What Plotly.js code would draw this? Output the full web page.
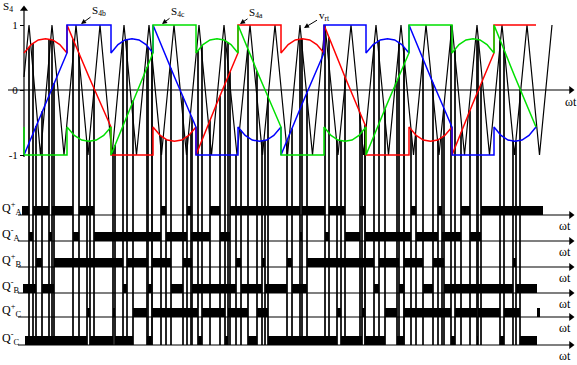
<!DOCTYPE html>
<html><head><meta charset="utf-8">
<script src="https://cdn.plot.ly/plotly-3.0.1.min.js"></script>
<style>html,body{margin:0;padding:0;background:#fff}#chart{width:577px;height:365px}</style>
</head><body><div id="chart"></div>
<script>
// ---------- data (ωt axis in drawing units) ----------
// modulating signals S4a (red), S4b (blue), S4c (green)
const redX = [24,31.2,38.3,45.5,52.7,59.8,67, 67,89,111, 111,153, 153,160.2,167.3,174.5,181.7,188.8,196, 196,217,238, 238,281, 281,288.2,295.3,302.5,309.7,316.8,324, 324,345,366, 366,409, 409,416.2,423.3,430.5,437.7,444.8,452, 452,473,494, 494,536];
const redY = [.57,.70,.77,.79,.77,.70,.57, 1,.2,-.57, -1,-1, -.57,-.70,-.77,-.79,-.77,-.70,-.57, -1,-.2,.57, 1,1, .57,.70,.77,.79,.77,.70,.57, 1,.2,-.57, -1,-1, -.57,-.70,-.77,-.79,-.77,-.70,-.57, -1,-.2,.57, 1,1];
const blueX = [24,45.5,67, 67,111, 111,118,125,132,139,146,153, 153,174.5,196, 196,238, 238,245.2,252.3,259.5,266.7,273.8,281, 281,302.5,324, 324,366, 366,373.2,380.3,387.5,394.7,401.8,409, 409,430.5,452, 452,494, 494,501,508,515,522,529,536];
const blueY = [-1,-.2,.57, 1,1, .57,.70,.77,.79,.77,.70,.57, 1,.2,-.57, -1,-1, -.57,-.70,-.77,-.79,-.77,-.70,-.57, -1,-.2,.57, 1,1, .57,.70,.77,.79,.77,.70,.57, 1,.2,-.57, -1,-1, -.57,-.70,-.77,-.79,-.77,-.70,-.57];
const greenX = [24, 24,67, 67,74.3,81.7,89,96.3,103.7,111, 111,132,153, 153,196, 196,203,210,217,224,231,238, 238,259.5,281, 281,324, 324,331,338,345,352,359,366, 366,387.5,409, 409,452, 452,459,466,473,480,487,494, 494,515,536];
const greenY = [-.57, -1,-1, -.57,-.70,-.77,-.79,-.77,-.70,-.57, -1,-.2,.57, 1,1, .57,.70,.77,.79,.77,.70,.57, 1,.2,-.57, -1,-1, -.57,-.70,-.77,-.79,-.77,-.70,-.57, -1,-.2,.57, 1,1, .57,.70,.77,.79,.77,.70,.57, 1,.2,-.57];

// triangular carrier v_rt (vertices)
const carrierX = [24,29,40.5,52,64,76,88,100,112,124,136.5,149,161.5,174,186.5,199,211.5,224,237,250,262.5,275,287.5,300,312.5,325,338,351,363.5,376,388.5,401,413.5,426,439,452,464.5,477,489.5,502,514.5,527,539.5,552];
const carrierY = [0.2,1,-1,1,-1,1,-1,1,-1,1,-1,1,-1,1,-1,1,-1,1,-1,1,-1,1,-1,1,-1,1,-1,1,-1,1,-1,1,-1,1,-1,1,-1,1,-1,1,-1,1,-1,1];

// gate signals: on-intervals [start, end]
const qApOn = [[22,29],[33,49],[52,73],[79,94],[161,166],[187,191],[210,220],[230,300],[302,325],[329,345],[360,365],[411,416],[438,442],[461,470],[481,543]];
const qAnOn = [[29,33],[49,52],[73,79],[94,161],[166,187],[191,210],[220,230],[300,302],[325,329],[345,360],[365,411],[416,438],[442,461],[470,481]];
const qBpOn = [[36,42],[54,123],[127,148],[152,171],[183,192],[236,241],[262,265],[287,292],[307,374],[379,399],[404,423],[433,444],[513,516]];
const qBnOn = [[23,36],[42,54],[123,127],[148,152],[171,183],[192,236],[241,262],[265,287],[292,307],[374,379],[399,404],[423,433],[444,513],[516,537]];
const qCpOn = [[87,90],[113,115],[133,147],[152,198],[202,225],[228,248],[257,268],[337,341],[362,365],[385,397],[404,451],[455,477],[478,500],[504,520],[537,540]];
const qCnOn = [[25,87],[90,113],[115,133],[147,152],[198,202],[225,228],[248,257],[268,337],[341,362],[365,385],[397,404],[451,455],[477,478],[500,504],[520,537]];

const rowLabels = ['Q<sup>+</sup><sub>A</sub>','Q<sup>-</sup><sub>A</sub>','Q<sup>+</sup><sub>B</sub>','Q<sup>-</sup><sub>B</sub>','Q<sup>+</sup><sub>C</sub>','Q<sup>-</sup><sub>C</sub>'];

// ---------- layout helpers ----------
const W = 577, H = 365;
const toVal = py => 1 - 2 * (py - 25) / 130;      // top panel value at pixel row
const toPaper = py => 1 - py / H;
const rowBase = [215, 241, 267, 293, 317, 345];    // baseline pixel rows
const barH = 9;
const FONT = 'Liberation Serif, Times New Roman, serif';

const rows = [
  {on: qApOn, rx: redX, ry: redY},
  {on: qAnOn, rx: redX, ry: redY},
  {on: qBpOn, rx: blueX, ry: blueY},
  {on: qBnOn, rx: blueX, ry: blueY},
  {on: qCpOn, rx: greenX, ry: greenY},
  {on: qCnOn, rx: greenX, ry: greenY}
];

function interp(xs, ys, x) {
  for (let i = 0; i < xs.length - 1; i++) {
    if (xs[i + 1] > xs[i] && x >= xs[i] && x <= xs[i + 1]) {
      return ys[i] + (ys[i + 1] - ys[i]) * (x - xs[i]) / (xs[i + 1] - xs[i]);
    }
  }
  return null;
}

const traces = [];
// vertical switching lines
const vx = [], vy = [];
const bottom = toVal(rowBase[5]);
rows.forEach(r => {
  r.on.forEach(iv => {
    iv.forEach(e => {
      if (e <= 26) return;
      const top = interp(r.rx, r.ry, e);
      if (top === null) return;
      vx.push(e, e, null); vy.push(top, bottom, null);
    });
  });
});
traces.push({type:'scatter', mode:'lines', x:vx, y:vy, xaxis:'x', yaxis:'y',
  line:{color:'#111', width:1.4}, hoverinfo:'skip', showlegend:false});

// gate bars
rows.forEach((r, k) => {
  traces.push({type:'bar', x:r.on.map(iv => (iv[0] + iv[1]) / 2), width:r.on.map(iv => iv[1] - iv[0]),
    y:r.on.map(() => 1), base:0, xaxis:'x', yaxis:'y' + (k + 2),
    marker:{color:'#000', line:{width:0}}, hoverinfo:'skip', showlegend:false});
});

// axis lines (baselines, zero line, vertical axis) and arrowheads
const ax = [], ay = [];
rowBase.forEach(b => { ax.push(18, 571, null); ay.push(toVal(b), toVal(b), null); });
ax.push(8, 571, null); ay.push(0, 0, null);
ax.push(24, 24, null); ay.push(toVal(157), toVal(10), null);
traces.push({type:'scatter', mode:'lines', x:ax, y:ay, xaxis:'x', yaxis:'y',
  line:{color:'#000', width:1.2}, hoverinfo:'skip', showlegend:false, cliponaxis:false});
traces.push({type:'scatter', mode:'markers', x:rowBase.map(() => 571).concat([571]),
  y:rowBase.map(b => toVal(b)).concat([0]), xaxis:'x', yaxis:'y', cliponaxis:false,
  marker:{symbol:'triangle-right', size:7, color:'#000', line:{width:0}}, hoverinfo:'skip', showlegend:false});
traces.push({type:'scatter', mode:'markers', x:[24], y:[toVal(9)], xaxis:'x', yaxis:'y', cliponaxis:false,
  marker:{symbol:'triangle-up', size:7, color:'#000', line:{width:0}}, hoverinfo:'skip', showlegend:false});

// carrier
traces.push({type:'scatter', mode:'lines', x:carrierX, y:carrierY, xaxis:'x', yaxis:'y',
  line:{color:'#000', width:1.2}, hoverinfo:'skip', showlegend:false});
// modulating signals
[[redX, redY, '#ff0000'], [blueX, blueY, '#0000ff'], [greenX, greenY, '#00e000']].forEach(s => {
  traces.push({type:'scatter', mode:'lines', x:s[0], y:s[1], xaxis:'x', yaxis:'y',
    line:{color:s[2], width:1.5}, hoverinfo:'skip', showlegend:false});
});

const layout = {
  width: W, height: H, margin:{l:0, r:0, t:0, b:0, pad:0},
  paper_bgcolor:'#fff', plot_bgcolor:'rgba(0,0,0,0)',
  showlegend:false, barmode:'overlay', hovermode:false,
  font:{family:FONT, color:'#000', size:12},
  xaxis:{range:[0, W], visible:false, fixedrange:true},
  yaxis:{domain:[0,1], range:[toVal(H), toVal(0)], anchor:'free', position:24 / W,
    tickvals:[-1,0,1], ticktext:['-1','0','1'], ticks:'outside', ticklen:4, tickcolor:'#000', tickwidth:1,
    showline:false, showgrid:false, zeroline:false, tickfont:{family:FONT, size:11}, fixedrange:true},
  annotations: []
};
rowBase.forEach((b, k) => {
  layout['yaxis' + (k + 2)] = {domain:[toPaper(b), toPaper(b - barH)], range:[0,1], anchor:'x',
    visible:false, fixedrange:true};
  layout.annotations.push({x:0, y:toPaper(b - 7), xref:'paper', yref:'paper', xanchor:'left', yanchor:'middle',
    text:rowLabels[k], showarrow:false, font:{family:FONT, size:12}});
  layout.annotations.push({x:565, y:toPaper(b + 11), xref:'x', yref:'paper', xanchor:'center', yanchor:'middle',
    text:'ωt', showarrow:false, font:{family:FONT, size:12}});
});
layout.annotations.push({x:571, y:toVal(102), xref:'x', yref:'y', xanchor:'center', yanchor:'middle',
  text:'ωt', showarrow:false, font:{family:FONT, size:12}});
layout.annotations.push({x:1, y:toVal(7), xref:'x', yref:'y', xanchor:'left', yanchor:'middle',
  text:'S<sub>4</sub>', showarrow:false, font:{family:FONT, size:11}});
// callouts
[['S<sub>4b</sub>', 81, 24, 18, -13], ['S<sub>4c</sub>', 162, 24, 16, -12],
 ['S<sub>4a</sub>', 240, 24, 16, -11], ['v<sub>rt</sub>', 304, 28, 20, -12]].forEach(c => {
  layout.annotations.push({x:c[1], y:toVal(c[2]), xref:'x', yref:'y', ax:c[3], ay:c[4],
    text:c[0], showarrow:true, arrowhead:2, arrowsize:1, arrowwidth:1, arrowcolor:'#000',
    font:{family:FONT, size:11}});
});

Plotly.newPlot('chart', traces, layout, {staticPlot:true, displayModeBar:false});
</script>
</body></html>
